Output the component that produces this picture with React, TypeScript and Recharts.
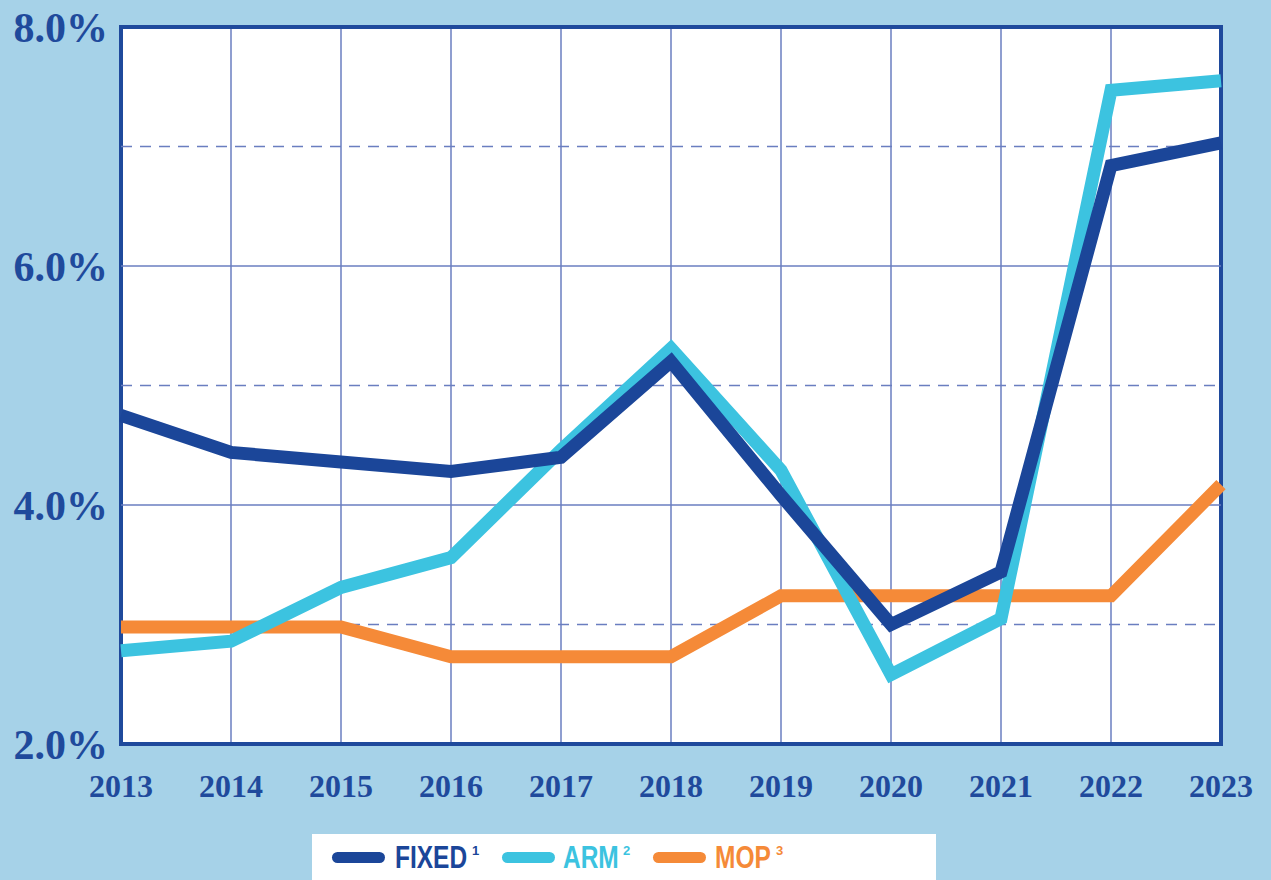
import { LineChart, Line, XAxis, YAxis, CartesianGrid, ReferenceLine, ReferenceArea } from "recharts";

const years = [2013, 2014, 2015, 2016, 2017, 2018, 2019, 2020, 2021, 2022, 2023];
const fixedRates = [4.75, 4.44, 4.36, 4.28, 4.4, 5.2, 4.08, 3.0, 3.44, 6.84, 7.03];
const armRates = [2.78, 2.86, 3.31, 3.56, 4.46, 5.31, 4.29, 2.58, 3.05, 7.47, 7.55];
const mopRates = [2.98, 2.98, 2.98, 2.73, 2.73, 2.73, 3.24, 3.24, 3.24, 3.24, 4.17];
const yTicks = [2, 4, 6, 8];
const dashedLevels = [3, 5, 7];
const solidLevels = [4, 6];

const legendItems = [
  { name: "FIXED", sup: "1", color: "#1b4699", swatchX: 20, textX: 83, supX: 160 },
  { name: "ARM", sup: "2", color: "#3cc3e0", swatchX: 190, textX: 251, supX: 311 },
  { name: "MOP", sup: "3", color: "#f58a38", swatchX: 341, textX: 403, supX: 464 },
];

const data = years.map((y, i) => ({
  year: y,
  fixed: fixedRates[i],
  arm: armRates[i],
  mop: mopRates[i],
}));

const axisBlue = "#1f4a9c";
const gridBlue = "#6a7ec0";

export default function App() {
  return (
    <div
      style={{
        position: "fixed",
        left: 0,
        top: 0,
        width: 1271,
        height: 880,
        background: "#a6d2e8",
        overflow: "hidden",
      }}
    >
      <LineChart width={1271} height={880} data={data} margin={{ top: 27, right: 50, left: 0, bottom: 46 }}>
        <CartesianGrid fill="#ffffff" horizontal={false} stroke={gridBlue} strokeWidth={1.5} />
        {solidLevels.map((v) => (
          <ReferenceLine key={"s" + v} y={v} stroke={gridBlue} strokeWidth={1.5} />
        ))}
        {dashedLevels.map((v) => (
          <ReferenceLine key={"d" + v} y={v} stroke={gridBlue} strokeWidth={1.5} strokeDasharray="11 8" />
        ))}
        <XAxis
          dataKey="year"
          type="number"
          domain={[2013, 2023]}
          ticks={years}
          height={90}
          axisLine={false}
          tickLine={false}
          tickSize={0}
          tickMargin={30}
          tick={{ fill: axisBlue, fontSize: 32, fontWeight: "bold", fontFamily: "Liberation Serif, serif" }}
          interval={0}
        />
        <YAxis
          domain={[2, 8]}
          ticks={yTicks}
          width={121}
          axisLine={false}
          tickLine={false}
          tickSize={0}
          tickMargin={13}
          tickFormatter={(v: number) => v.toFixed(1) + "%"}
          tick={{ fill: axisBlue, fontSize: 42, fontWeight: "bold", fontFamily: "Liberation Serif, serif" }}
        />
        <Line dataKey="mop" stroke="#f58a38" strokeWidth={13} dot={false} isAnimationActive={false} />
        <Line dataKey="arm" stroke="#3cc3e0" strokeWidth={13} dot={false} isAnimationActive={false} />
        <Line dataKey="fixed" stroke="#1b4699" strokeWidth={13} dot={false} isAnimationActive={false} />
        <ReferenceArea
          x1={2013}
          x2={2023}
          y1={2}
          y2={8}
          fill="none"
          stroke={axisBlue}
          strokeWidth={4}
          ifOverflow="visible"
        />
      </LineChart>
      <div
        style={{
          position: "absolute",
          left: 312,
          top: 834,
          width: 624,
          height: 50,
          background: "#ffffff",
          fontFamily: "Liberation Sans, Arial, sans-serif",
          fontWeight: "bold",
        }}
      >
        {legendItems.map((it) => (
          <div key={it.name}>
            <span
              style={{
                position: "absolute",
                left: it.swatchX,
                top: 18,
                width: 53,
                height: 11,
                borderRadius: 6,
                background: it.color,
              }}
            />
            <span
              style={{
                position: "absolute",
                left: it.textX,
                top: 6,
                color: it.color,
                fontSize: 31,
                lineHeight: "36px",
                transform: "scaleX(0.79)",
                transformOrigin: "left center",
                whiteSpace: "nowrap",
              }}
            >
              {it.name}
            </span>
            <span
              style={{
                position: "absolute",
                left: it.supX,
                top: 10,
                color: it.color,
                fontSize: 13,
                lineHeight: "14px",
              }}
            >
              {it.sup}
            </span>
          </div>
        ))}
      </div>
    </div>
  );
}
